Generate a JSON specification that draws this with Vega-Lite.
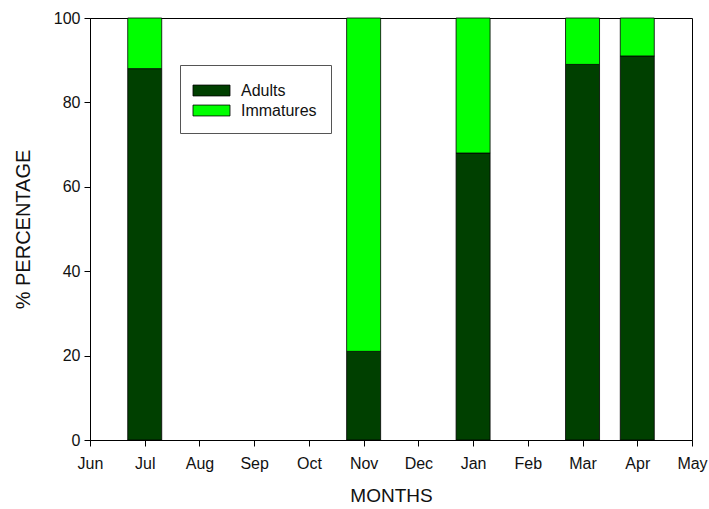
{
  "$schema": "https://vega.github.io/schema/vega-lite/v6.json",
  "width": 602,
  "height": 422,
  "autosize": {"type": "none"},
  "padding": {"left": 90, "top": 18, "right": 17, "bottom": 69},
  "background": "white",
  "config": {
    "font": "Liberation Sans",
    "view": {"stroke": "black", "strokeWidth": 1},
    "axis": {"grid": false, "domainColor": "black", "tickColor": "black", "labelColor": "#111111", "titleColor": "#111111", "labelFontSize": 16, "titleFontSize": 19, "titleFontWeight": "normal", "tickSize": 6}
  },
  "data": {
    "values": [
      {"m": 1, "month": "Jul", "stage": "Adults", "value": 88},
      {"m": 1, "month": "Jul", "stage": "Immatures", "value": 12},
      {"m": 5, "month": "Nov", "stage": "Adults", "value": 21},
      {"m": 5, "month": "Nov", "stage": "Immatures", "value": 79},
      {"m": 7, "month": "Jan", "stage": "Adults", "value": 68},
      {"m": 7, "month": "Jan", "stage": "Immatures", "value": 32},
      {"m": 9, "month": "Mar", "stage": "Adults", "value": 89},
      {"m": 9, "month": "Mar", "stage": "Immatures", "value": 11},
      {"m": 10, "month": "Apr", "stage": "Adults", "value": 91},
      {"m": 10, "month": "Apr", "stage": "Immatures", "value": 9}
    ]
  },
  "mark": {"type": "bar", "size": 34, "stroke": "black", "strokeWidth": 0.8},
  "encoding": {
    "x": {
      "field": "m",
      "type": "quantitative",
      "scale": {"domain": [0, 11], "nice": false, "zero": false, "padding": 0},
      "axis": {
        "title": "MONTHS",
        "values": [0,1,2,3,4,5,6,7,8,9,10,11],
        "labelExpr": "['Jun','Jul','Aug','Sep','Oct','Nov','Dec','Jan','Feb','Mar','Apr','May'][datum.value]",
        "labelPadding": 9,
        "titlePadding": 15,
        "labelFlush": false
      }
    },
    "y": {
      "field": "value",
      "type": "quantitative",
      "stack": "zero",
      "scale": {"domain": [0, 100], "nice": false},
      "axis": {"title": "% PERCENTAGE", "titleFontSize": 20, "values": [0,20,40,60,80,100], "labelPadding": 4, "titlePadding": 20}
    },
    "color": {
      "field": "stage",
      "type": "nominal",
      "scale": {"domain": ["Adults", "Immatures"], "range": ["#004000", "#00ff00"]},
      "legend": {
        "title": null,
        "orient": "none",
        "legendX": 90,
        "legendY": 47,
        "direction": "vertical",
        "strokeColor": "#555555",
        "fillColor": "white",
        "padding": 14,
        "symbolType": "M-1.7,-0.5L1.7,-0.5L1.7,0.5L-1.7,0.5Z",
        "symbolSize": 474,
        "symbolStrokeColor": "black",
        "symbolStrokeWidth": 0.8,
        "labelFontSize": 16,
        "labelColor": "#111111",
        "rowPadding": -2,
        "symbolOffset": 6,
        "labelOffset": 18,
        "labelLimit": 300
      }
    },
    "order": {"field": "stage", "sort": "ascending"}
  }
}
